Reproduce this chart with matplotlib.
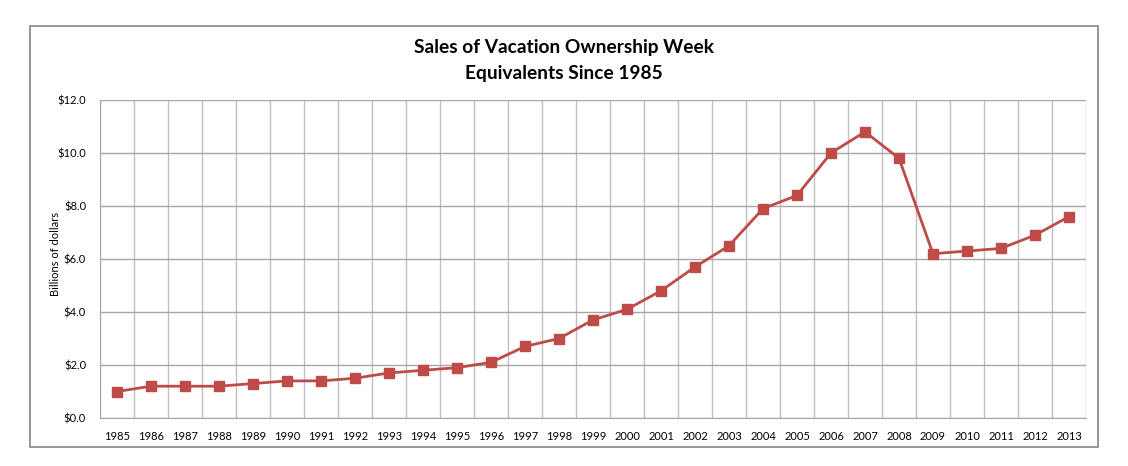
import matplotlib
matplotlib.use("Agg")
import matplotlib.pyplot as plt
from matplotlib.patches import Rectangle
import numpy as np

years = [str(y) for y in range(1985, 2014)]
sales = [1.0, 1.2, 1.2, 1.2, 1.3, 1.4, 1.4, 1.5, 1.7, 1.8, 1.9, 2.1, 2.7, 3.0,
         3.7, 4.1, 4.8, 5.7, 6.5, 7.9, 8.4, 10.0, 10.8, 9.8, 6.2, 6.3, 6.4, 6.9, 7.6]
yticks = [0, 2, 4, 6, 8, 10, 12]
ytick_labels = ["$0.0", "$2.0", "$4.0", "$6.0", "$8.0", "$10.0", "$12.0"]

plt.rcParams['font.family'] = ['Lato', 'DejaVu Sans']

W, H = 1128, 466
fig = plt.figure(figsize=(W / 100, H / 100), dpi=100)
fig.patch.set_facecolor('white')

# outer border
fig.patches.append(Rectangle((30 / W, 1 - 447 / H), (1098 - 30) / W, (447 - 26) / H,
                             transform=fig.transFigure, fill=False,
                             edgecolor='#868686', linewidth=1.2))

ax = fig.add_axes([100 / W, 1 - 418 / H, (1086 - 100) / W, (418 - 100) / H])
x = np.arange(len(years))
ax.plot(x, sales, color='#be4b48', linewidth=2, marker='s', markersize=7.5,
        markerfacecolor='#be4b48', markeredgecolor='#be4b48', zorder=3)

ax.set_xlim(-0.5, len(years) - 0.5)
ax.set_ylim(0, 12)
ax.set_yticks(yticks)
ax.set_yticklabels(ytick_labels, fontsize=8)
ax.set_xticks(x)
ax.set_xticklabels(years, fontsize=8)
ax.set_xticks(np.arange(-0.5, len(years), 1), minor=True)
ax.tick_params(axis='x', which='major', length=0, pad=9)
ax.tick_params(axis='x', which='minor', length=0)
ax.tick_params(axis='y', length=0, pad=10)

ax.grid(axis='y', which='major', color='#a6a6a6', linewidth=1)
ax.grid(axis='x', which='minor', color='#bfbfbf', linewidth=1)
ax.grid(axis='x', which='major', visible=False)
ax.set_axisbelow(True)
for s in ['top', 'right']:
    ax.spines[s].set_visible(False)
ax.spines['left'].set_color('#a6a6a6')
ax.spines['bottom'].set_color('#a6a6a6')

ax.set_ylabel("Billions of dollars", fontsize=8)
ax.yaxis.set_label_coords((61 - 100) / 986, 0.515)

fig.text(564 / W, 1 - 47 / H, "Sales of Vacation Ownership Week", ha='center', va='center',
         fontsize=13.8, fontweight='bold')
fig.text(564 / W, 1 - 73 / H, "Equivalents Since 1985", ha='center', va='center',
         fontsize=13.8, fontweight='bold')

fig.savefig("out.png", dpi=100)
